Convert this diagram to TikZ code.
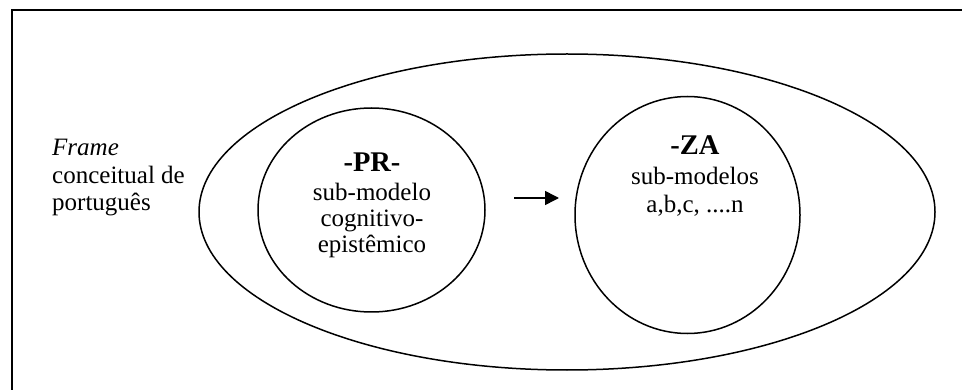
\documentclass[tikz,border=0pt]{standalone}
\usepackage{fontspec}
\setmainfont{Liberation Serif}
\usetikzlibrary{shapes.geometric,arrows.meta}
\begin{document}
\begin{tikzpicture}[x=1pt,y=-1pt,
  oval/.style={draw, ellipse, line width=1.5pt, inner sep=0pt},
  body/.style={font=\fontsize{25}{28}\selectfont, align=center, inner sep=0pt, anchor=base},
  head/.style={font=\fontsize{28.5}{30}\selectfont\bfseries, inner sep=0pt, anchor=base},
  arr/.style={line width=1.5pt, -{Triangle[length=14pt,width=14pt]}}]
\useasboundingbox (0,0) rectangle (962,390);
\fill[white] (0,0) rectangle (962,390);
% frame (only top and left edges visible)
\draw[line width=2pt] (11.5,390) -- (11.5,10) -- (962,10);
% outer ellipse
\node[oval, minimum width=736pt, minimum height=316pt] (outer) at (567,212) {};
% PR circle
\node[oval, minimum width=227pt, minimum height=204pt] (pr) at (371.5,210) {};
% ZA circle
\node[oval, minimum width=225pt, minimum height=237pt] (za) at (687.5,215) {};
% texts
\node[head] (prh) at (372,172) {-PR-};
\node[body] (prt) at (372,200.5) {sub-modelo};
\node[body] (prt2) at (372,226.5) {cognitivo-};
\node[body] (prt3) at (372,252.5) {epistêmico};
\node[head] (zah) at (695,155) {-ZA};
\node[body] (zat) at (695,185) {sub-modelos};
\node[body] (zat2) at (695,213) {a,b,c, ....n};
\node[body, anchor=base west] (fr1) at (52,156) {\itshape Frame};
\node[body, anchor=base west] (fr2) at (52,183.5) {conceitual de};
\node[body, anchor=base west] (fr3) at (52,211) {português};
% arrow
\coordinate (a1) at (514,198);
\coordinate (a2) at (559,198);
\draw[arr] (a1) -- (a2);
\end{tikzpicture}
\end{document}
